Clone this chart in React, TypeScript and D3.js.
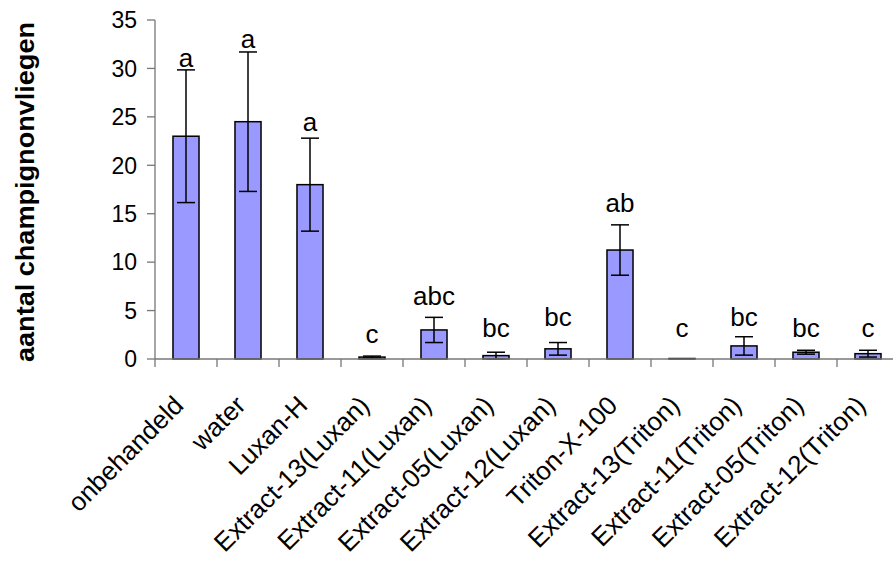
import React from 'react';
import * as d3 from 'd3';

const categories = [
  'onbehandeld', 'water', 'Luxan-H',
  'Extract-13(Luxan)', 'Extract-11(Luxan)', 'Extract-05(Luxan)', 'Extract-12(Luxan)',
  'Triton-X-100',
  'Extract-13(Triton)', 'Extract-11(Triton)', 'Extract-05(Triton)', 'Extract-12(Triton)'
];
const means = [23, 24.5, 18, 0.2, 3, 0.35, 1.05, 11.25, 0.05, 1.35, 0.7, 0.55];
const errors = [6.85, 7.2, 4.8, 0.1, 1.3, 0.35, 0.65, 2.6, 0, 0.95, 0.2, 0.35];
const letters = ['a', 'a', 'a', 'c', 'abc', 'bc', 'bc', 'ab', 'c', 'bc', 'bc', 'c'];
// height (in data units) of each letter's baseline
const letterLevels = [30.15, 32.1, 23.5, 1.65, 5.6, 2.3, 3.4, 15.2, 2.3, 3.4, 2.3, 2.3];
const yTicks = [0, 5, 10, 15, 20, 25, 30, 35];

const W = 893, H = 565;
const left = 155, right = 899, top = 20, bottom = 359;
const font = 'Arial, "Liberation Sans", sans-serif';

export default function App() {
  const x = d3.scaleBand<string>().domain(categories).range([left, right]).padding(0);
  const y = d3.scaleLinear().domain([0, 35]).range([bottom, top]);
  const bw = x.bandwidth() * 0.42;
  const cap = 9;

  return (
    <svg width={W} height={H} style={{ position: 'absolute', left: 0, top: 0, background: '#fff' }}>
      <rect width={W} height={H} fill="#fff" />
      {/* y axis */}
      <line x1={left} x2={left} y1={top} y2={bottom} stroke="#777" strokeWidth={1.3} />
      {yTicks.map(t => (
        <g key={t}>
          <line x1={left - 8} x2={left} y1={y(t)} y2={y(t)} stroke="#777" strokeWidth={1.3} />
          <text x={left - 18} y={y(t)} dy="0.36em" textAnchor="end" fontFamily={font} fontSize={23}>{t}</text>
        </g>
      ))}
      {/* bars */}
      {categories.map((c, i) => {
        const cx = x(c)! + x.bandwidth() / 2;
        return (
          <g key={c}>
            <rect x={cx - bw / 2} y={y(means[i])} width={bw} height={Math.max(0, y(0) - y(means[i]))}
              fill="#9999ff" stroke="#000" strokeWidth={1.5} />
            {errors[i] > 0 && (
              <g stroke="#000" strokeWidth={1.5}>
                <line x1={cx} x2={cx} y1={y(means[i] + errors[i])} y2={y(Math.max(0, means[i] - errors[i]))} />
                <line x1={cx - cap} x2={cx + cap} y1={y(means[i] + errors[i])} y2={y(means[i] + errors[i])} />
                <line x1={cx - cap} x2={cx + cap} y1={y(Math.max(0, means[i] - errors[i]))} y2={y(Math.max(0, means[i] - errors[i]))} />
              </g>
            )}
            <text x={cx} y={y(letterLevels[i])} textAnchor="middle" fontFamily={font} fontSize={26}>{letters[i]}</text>
          </g>
        );
      })}
      {/* x axis */}
      <line x1={left} x2={W} y1={bottom} y2={bottom} stroke="#777" strokeWidth={1.3} />
      {categories.map(c => (
        <line key={c} x1={x(c)!} x2={x(c)!} y1={bottom} y2={bottom + 8} stroke="#777" strokeWidth={1.3} />
      ))}
      {categories.map(c => {
        const cx = x(c)! + x.bandwidth() / 2;
        return (
          <text key={c} transform={`translate(${cx - 1},${bottom + 48}) rotate(-45)`} textAnchor="end"
            fontFamily={font} fontSize={26}>{c}</text>
        );
      })}
      <text transform={`translate(34,192) rotate(-90)`} textAnchor="middle" textLength={340}
        lengthAdjust="spacingAndGlyphs" fontFamily={font} fontSize={25} fontWeight="bold">aantal champignonvliegen</text>
    </svg>
  );
}
